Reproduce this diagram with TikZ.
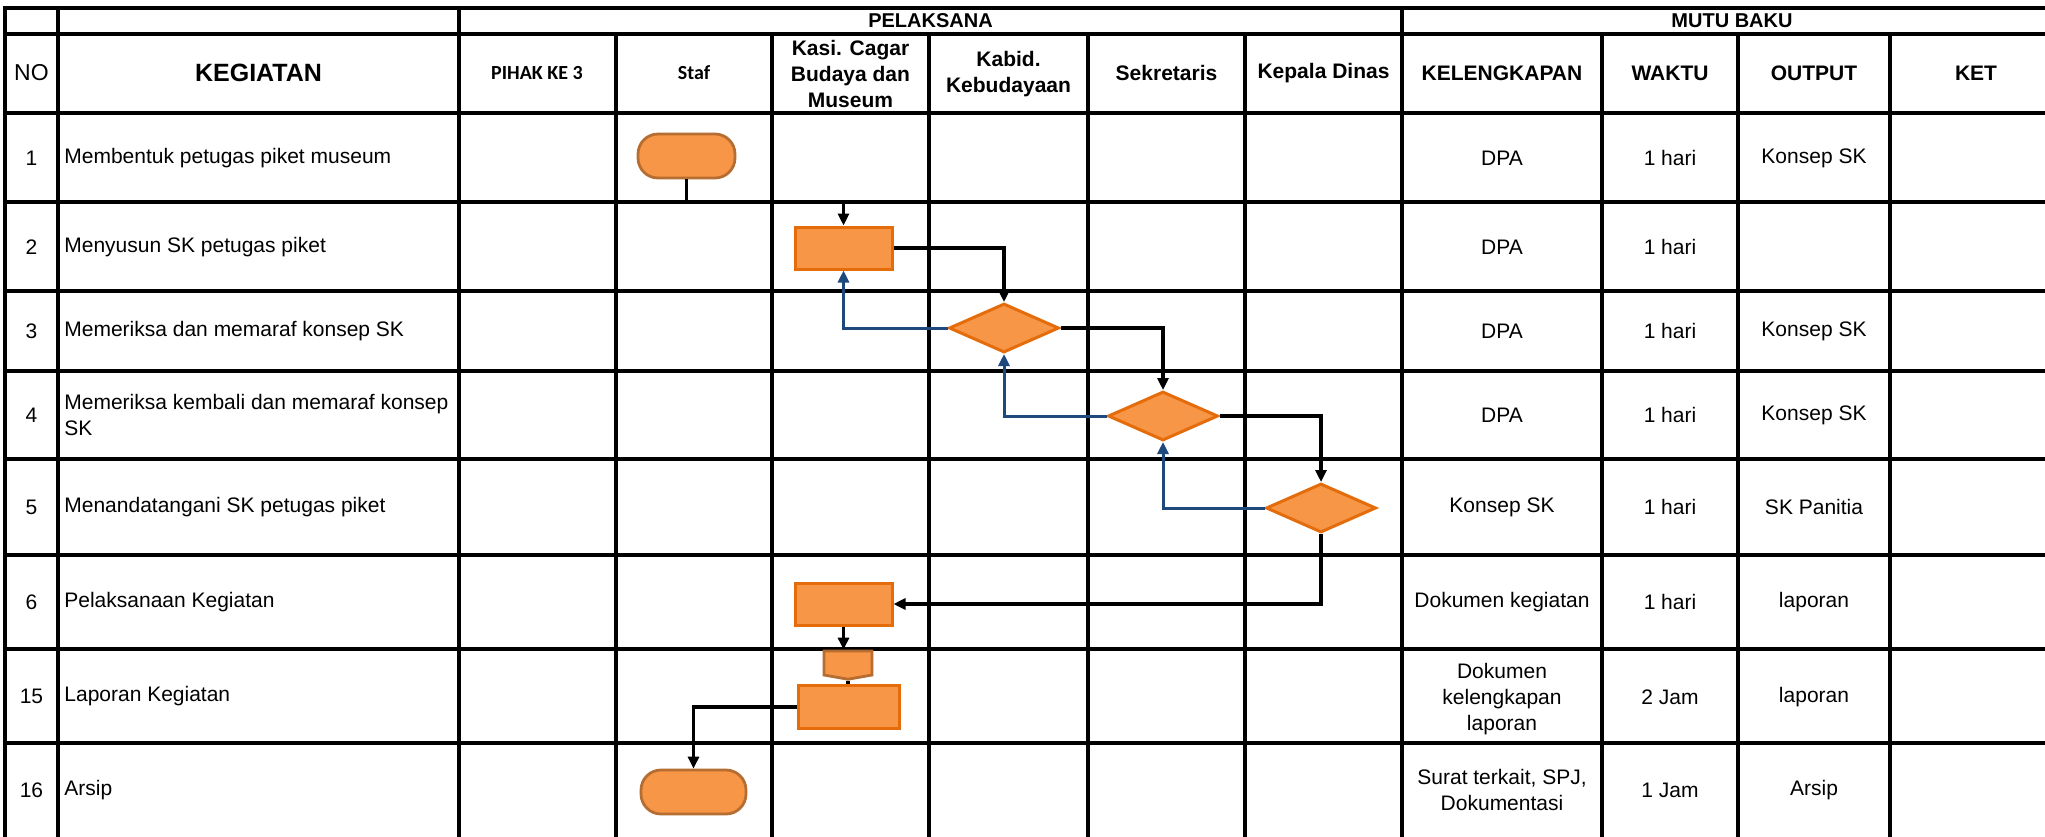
\documentclass[tikz,border=0pt]{standalone}
\usepackage{fontspec}
\setmainfont{Liberation Sans}
\newfontfamily\calibrifont{Carlito}
\usepackage{tikz}
\usetikzlibrary{positioning,arrows.meta,calc,shapes.geometric,shapes.symbols}
\definecolor{boxorange}{RGB}{247,150,70}
\definecolor{boxorangeline}{RGB}{228,108,10}
\definecolor{termline}{RGB}{182,109,49}
\definecolor{backblue}{RGB}{31,73,125}
\tikzset{
  tablerule/.style={line width=1.6pt,line cap=rect},
  hdrtop/.style={font=\fontsize{10}{12}\selectfont\bfseries,align=center,inner sep=0pt},
  hdr/.style={font=\fontsize{10.5}{13}\selectfont\bfseries,align=center,inner sep=0pt},
  calhdr/.style={font=\fontsize{10}{12}\selectfont\calibrifont\bfseries,align=center,inner sep=0pt},
  cell/.style={font=\fontsize{10.5}{13}\selectfont,align=center,inner sep=0pt},
  actcell/.style={font=\fontsize{10.5}{13}\selectfont,align=left,anchor=west,inner sep=0pt},
  terminal/.style={draw=termline,fill=boxorange,line width=1.4pt,rounded corners=10pt,minimum height=22pt},
  process/.style={draw=boxorangeline,fill=boxorange,line width=1.5pt,minimum height=21pt},
  decision/.style={diamond,draw=boxorangeline,fill=boxorange,line width=1.5pt,inner sep=0pt,minimum width=55pt,minimum height=24.5pt},
  offpage/.style={signal,signal to=south,signal from=nowhere,signal pointer angle=160,draw=termline,fill=boxorange,line width=1.4pt,inner sep=0pt,minimum width=24pt,minimum height=12pt},
  flow/.style={-{Triangle[length=6pt,width=5.5pt]},line width=1.7pt,draw=black},
  back/.style={-{Triangle[length=6pt,width=5.5pt]},line width=1.5pt,draw=backblue},
}
\begin{document}
\begin{tikzpicture}[x=0.5pt,y=-0.5pt]
  \useasboundingbox (0,0) rectangle (2045,836);
  % table rules
  \foreach \yy in {8,34,113,202,291,371,459,555,649,743}
    \draw[tablerule] (5,\yy) -- (2062,\yy);
  \foreach \xx in {5,58,459,1402,2062}
    \draw[tablerule] (\xx,8) -- (\xx,850);
  \foreach \xx in {616,772,929,1088,1245,1602,1738,1890}
    \draw[tablerule] (\xx,34) -- (\xx,850);
  % header
  \node[hdrtop] (pel)  at (930.5,21) {PELAKSANA};
  \node[hdrtop] (mutu) at (1732,21)  {MUTU BAKU};
  \node[cell,font=\fontsize{11.5}{13}\selectfont] (hno) at (31.5,73) {NO};
  \node[hdr,font=\fontsize{12.5}{14}\selectfont\bfseries] (hkeg) at (258.5,73) {KEGIATAN};
  \node[calhdr] (hpihak) at (537,73)    {PIHAK KE 3};
  \node[calhdr] (hstaf)  at (694,73)    {Staf};
  \node[hdr]    (hkasi)  at (850.5,74)  {Kasi. Cagar\\Budaya dan\\Museum};
  \node[hdr]    (hkabid) at (1008.5,74) {Kabid.\\Kebudayaan};
  \node[hdr]    (hsekr)  at (1166.5,73) {Sekretaris};
  \node[hdr]    (hkadis) at (1323.5,73) {Kepala Dinas};
  \node[hdr]    (hkel)   at (1502,73)   {KELENGKAPAN};
  \node[hdr]    (hwkt)   at (1670,73)   {WAKTU};
  \node[hdr]    (hout)   at (1814,73)   {OUTPUT};
  \node[hdr]    (hket)   at (1976,73)   {KET};
  % activities
  \node[cell]    (no1)  at (31.5,158) {1};
  \node[actcell] (keg1) at (64,158)   {Membentuk petugas piket museum};
  \node[cell]    (no2)  at (31.5,247) {2};
  \node[actcell] (keg2) at (64,247)   {Menyusun SK petugas piket};
  \node[cell]    (no3)  at (31.5,331) {3};
  \node[actcell] (keg3) at (64,331)   {Memeriksa dan memaraf konsep SK};
  \node[cell]    (no4)  at (31.5,415) {4};
  \node[actcell] (keg4) at (64,415)   {Memeriksa kembali dan memaraf konsep\\SK};
  \node[cell]    (no5)  at (31.5,507) {5};
  \node[actcell] (keg5) at (64,507)   {Menandatangani SK petugas piket};
  \node[cell]    (no6)  at (31.5,602) {6};
  \node[actcell] (keg6) at (64,602)   {Pelaksanaan Kegiatan};
  \node[cell]    (no15) at (31.5,696) {15};
  \node[actcell] (keg15) at (64,696)  {Laporan Kegiatan};
  \node[cell]    (no16) at (31.5,790) {16};
  \node[actcell] (keg16) at (64,790)  {Arsip};
  % mutu baku
  \node[cell] (kel1) at (1502,158) {DPA};       \node[cell] (wkt1) at (1670,158) {1 hari}; \node[cell] (out1) at (1814,158) {Konsep SK};
  \node[cell] (kel2) at (1502,247) {DPA};       \node[cell] (wkt2) at (1670,247) {1 hari};
  \node[cell] (kel3) at (1502,331) {DPA};       \node[cell] (wkt3) at (1670,331) {1 hari}; \node[cell] (out3) at (1814,331) {Konsep SK};
  \node[cell] (kel4) at (1502,415) {DPA};       \node[cell] (wkt4) at (1670,415) {1 hari}; \node[cell] (out4) at (1814,415) {Konsep SK};
  \node[cell] (kel5) at (1502,507) {Konsep SK}; \node[cell] (wkt5) at (1670,507) {1 hari}; \node[cell] (out5) at (1814,507) {SK Panitia};
  \node[cell] (kel6) at (1502,602) {Dokumen kegiatan}; \node[cell] (wkt6) at (1670,602) {1 hari}; \node[cell] (out6) at (1814,602) {laporan};
  \node[cell] (kel15) at (1502,699) {Dokumen\\kelengkapan\\laporan}; \node[cell] (wkt15) at (1670,697) {2 Jam}; \node[cell] (out15) at (1814,697) {laporan};
  \node[cell] (kel16) at (1502,790) {Surat terkait, SPJ,\\Dokumentasi}; \node[cell] (wkt16) at (1670,790) {1 Jam}; \node[cell] (out16) at (1814,790) {Arsip};
  % flow shapes
  \node[terminal,minimum width=48.5pt] (start)  at (686.5,156) {};
  \node[process,minimum width=48.5pt]  (susun)  at (843.5,248) {};
  \node[decision] (cekkabid) at (1004,328) {};
  \node[decision] (ceksekr)  at (1163,416) {};
  \node[decision] (ttdkadis) at (1321,508) {};
  \node[process,minimum width=48.5pt]  (laksana) at (843.5,604) {};
  \node[offpage] (lanjut) at (848,663) {};
  \node[process,minimum width=50.5pt,minimum height=21.5pt] (lapor) at (848.5,707) {};
  \node[terminal,minimum width=52.5pt] (arsip) at (693.5,792) {};
  % connectors
  \draw[flow] (start.south) -- (start.south |- 0,202) -| (susun.north);
  \draw[flow] (susun.east) -| (cekkabid.north);
  \draw[back] (cekkabid.west) -| (susun.south);
  \draw[flow] (cekkabid.east) -| (ceksekr.north);
  \draw[back] (ceksekr.west) -| (cekkabid.south);
  \draw[flow] (ceksekr.east) -| (ttdkadis.north);
  \draw[back] (ttdkadis.west) -| (ceksekr.south);
  \draw[flow] (ttdkadis.south) |- (laksana.east);
  \draw[flow] (laksana.south) -- (laksana.south |- lanjut.north);
  \draw[line width=1.7pt] (lanjut.south) -- (lanjut.south |- lapor.north);
  \draw[flow] (lapor.west) -| (arsip.north);
\end{tikzpicture}
\end{document}
